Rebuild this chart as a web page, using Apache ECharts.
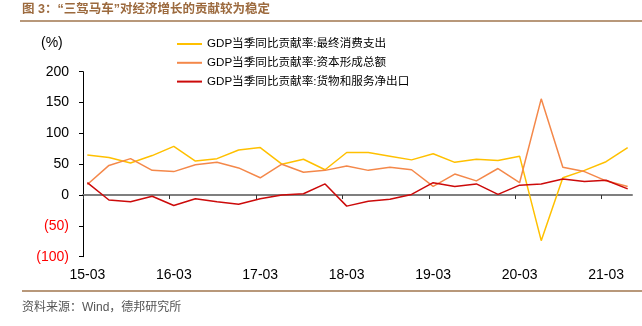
<!DOCTYPE html>
<html>
<head>
<meta charset="utf-8">
<script src="https://cdn.jsdelivr.net/npm/echarts@6/dist/echarts.min.js"></script>
<style>
html,body{margin:0;padding:0;background:#fff;}
#c{width:642px;height:326px;}
</style>
</head>
<body>
<div id="c"></div>
<script>
var categories = ['15-03','15-06','15-09','15-12','16-03','16-06','16-09','16-12','17-03','17-06','17-09','17-12','18-03','18-06','18-09','18-12','19-03','19-06','19-09','19-12','20-03','20-06','20-09','20-12','21-03','21-06'];
var tickLabelIdx = [0,4,8,12,16,20,24];
var consumption = [65,61,52,64,79,55,59,73,77,50,58,41,69,69,63,57,67,53,58,56,63,-74,28,40,54,77];
var capital = [17,48,59,40,38,49,53,44,28,50,37,40,47,40,45,41,14,34,23,43,20,156,45,38,23,14];
var netExport = [20,-8,-11,-2,-17,-6,-11,-15,-6,0,2,18,-18,-10,-7,1,20,14,18,1,16,18,26,22,24,10];
var seriesNames = ['GDP当季同比贡献率:最终消费支出','GDP当季同比贡献率:资本形成总额','GDP当季同比贡献率:货物和服务净出口'];
var colors = ['#FFC000','#F4884A','#CC0A0A'];

var FONT = "'Liberation Sans', Arial, 'Noto Sans CJK SC', sans-serif";
var chart = echarts.init(document.getElementById('c'), null, {renderer:'canvas'});
var xMin = -0.2, xMax = 25.2;
var tickVals = [-0.2,3.8,7.8,11.8,15.8,19.8,23.8];

function mk(name, data, color){
  return {
    name:name, type:'line', xAxisIndex:0, yAxisIndex:0,
    data:data.map(function(v,i){return [i,v];}),
    symbol:'none', lineStyle:{color:color,width:1.5}, itemStyle:{color:color},
    animation:false
  };
}

chart.setOption({
  animation:false,
  color:colors,
  grid:{left:83,right:10,top:71.7,bottom:69.3,containLabel:false},
  legend:{
    orient:'vertical', left:177, top:37, padding:0,
    icon:'rect', itemWidth:25, itemHeight:2, itemGap:4.8,
    textStyle:{fontFamily:FONT,fontSize:11.6,color:'#000',lineHeight:14},
    data:seriesNames
  },
  xAxis:[{
    type:'value', min:xMin, max:xMax, position:'bottom',
    axisLine:{show:false,onZero:false}, axisTick:{show:false}, splitLine:{show:false},
    axisLabel:{
      customValues:tickLabelIdx, margin:11,
      fontFamily:FONT, fontSize:14, color:'#000',
      formatter:function(v){return categories[Math.round(v)];}
    }
  },{
    type:'value', min:xMin, max:xMax, position:'top',
    axisLine:{show:true,onZero:true,lineStyle:{color:'#7f7f7f',width:2}},
    axisTick:{show:true,inside:true,length:4,customValues:tickVals,lineStyle:{color:'#333',width:1}},
    axisLabel:{show:false}, splitLine:{show:false}
  }],
  yAxis:{
    type:'value', min:-100, max:200, interval:50,
    axisLine:{show:true,onZero:false,lineStyle:{color:'#000',width:1}},
    axisTick:{show:true,length:4,lineStyle:{color:'#000'}},
    splitLine:{show:false},
    axisLabel:{
      margin:14, fontFamily:FONT, fontSize:14,
      formatter:function(v){return v<0?'('+(-v)+')':String(v);},
      color:function(v){return Number(v)<0?'#FF0000':'#000';}
    }
  },
  graphic:[
    {type:'text',left:22,top:3,style:{text:'图 3：“三驾马车”对经济增长的贡献较为稳定',fontFamily:FONT,fontSize:12.5,fontWeight:'bold',fill:'#9C6A3E'}},
    {type:'rect',shape:{x:20,y:20,width:622,height:2},style:{fill:'#B8987A'}},
    {type:'text',left:41,top:36,style:{text:'(%)',fontFamily:FONT,fontSize:14,fill:'#000'}},
    {type:'rect',shape:{x:22,y:290,width:620,height:2},style:{fill:'#B8987A'}},
    {type:'text',left:22,top:302,style:{text:'资料来源：Wind，德邦研究所',fontFamily:FONT,fontSize:12,fill:'#555'}}
  ],
  series:[mk(seriesNames[0],consumption,colors[0]),mk(seriesNames[1],capital,colors[1]),mk(seriesNames[2],netExport,colors[2])]
});
</script>
</body>
</html>
